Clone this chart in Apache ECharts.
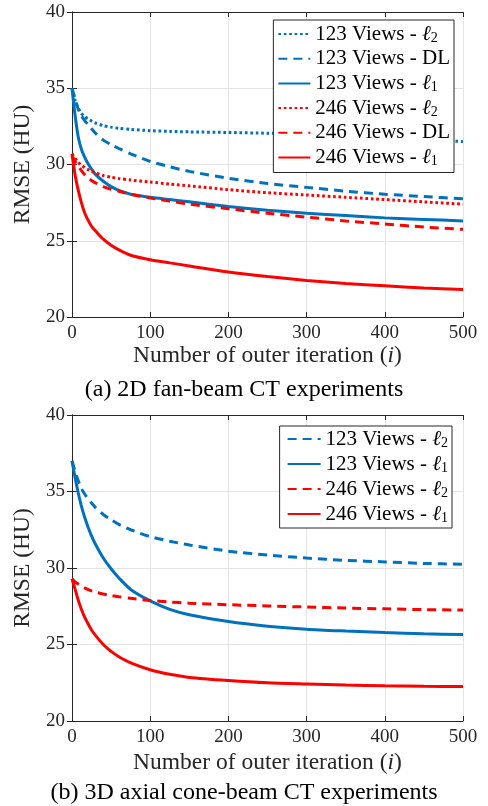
<!DOCTYPE html>
<html>
<head>
<meta charset="utf-8">
<script src="https://cdn.jsdelivr.net/npm/echarts@6/dist/echarts.min.js"></script>
<style>
  html, body { margin: 0; padding: 0; background: #fff; }
  #chart { width: 488px; height: 806px; }
</style>
</head>
<body>
<div id="chart"></div>
<script>
// iterations (x axis)
var iters = [0, 4, 8, 12, 16, 20, 25, 30, 40, 50, 60, 75, 100, 125, 150, 200, 250, 300, 350, 400, 450, 500];

// (a) 2D fan-beam CT
var fan123L2 = [35, 34.2, 33.7, 33.35, 33.15, 33.0, 32.85, 32.72, 32.55, 32.45, 32.37, 32.3, 32.22, 32.17, 32.14, 32.1, 32.05, 32.0, 31.9, 31.8, 31.65, 31.5];
var fan123DL = [35, 34.3, 33.6, 33.2, 32.9, 32.65, 32.35, 32.05, 31.6, 31.3, 31.05, 30.7, 30.2, 29.85, 29.55, 29.1, 28.75, 28.5, 28.25, 28.05, 27.9, 27.75];
var fan123L1 = [35, 33.2, 31.8, 31.0, 30.5, 30.1, 29.7, 29.35, 28.9, 28.55, 28.3, 28.05, 27.85, 27.7, 27.55, 27.25, 27.0, 26.8, 26.65, 26.5, 26.4, 26.3];
var fan246L2 = [30.7, 30.4, 30.15, 29.95, 29.8, 29.68, 29.55, 29.45, 29.28, 29.17, 29.08, 28.98, 28.85, 28.72, 28.6, 28.35, 28.15, 28.0, 27.85, 27.7, 27.55, 27.4];
var fan246DL = [30.6, 30.2, 29.9, 29.6, 29.35, 29.15, 28.95, 28.8, 28.55, 28.38, 28.25, 28.05, 27.8, 27.6, 27.4, 27.1, 26.8, 26.55, 26.3, 26.1, 25.9, 25.75];
var fan246L1 = [30.7, 29.3, 28.3, 27.5, 26.85, 26.4, 25.95, 25.65, 25.1, 24.7, 24.4, 24.05, 23.75, 23.55, 23.35, 22.95, 22.65, 22.4, 22.2, 22.05, 21.9, 21.8];

// (b) 3D axial cone-beam CT
var cone123L2 = [37, 36.3, 35.7, 35.2, 34.85, 34.55, 34.25, 33.95, 33.5, 33.15, 32.85, 32.5, 32.05, 31.75, 31.5, 31.1, 30.85, 30.65, 30.5, 30.4, 30.3, 30.25];
var cone123L1 = [37, 35.9, 34.9, 34.05, 33.35, 32.75, 32.1, 31.55, 30.65, 29.95, 29.35, 28.6, 27.85, 27.3, 26.95, 26.5, 26.2, 26.0, 25.88, 25.78, 25.7, 25.65];
var cone246L2 = [29.3, 29.1, 28.95, 28.82, 28.7, 28.6, 28.5, 28.42, 28.3, 28.2, 28.12, 28.02, 27.88, 27.78, 27.7, 27.6, 27.52, 27.45, 27.38, 27.33, 27.28, 27.25];
var cone246L1 = [29.3, 28.6, 27.9, 27.3, 26.8, 26.4, 25.95, 25.6, 25.0, 24.55, 24.2, 23.8, 23.35, 23.05, 22.85, 22.65, 22.5, 22.42, 22.35, 22.3, 22.27, 22.25];

var fanNames = ['123 Views - ℓ2', '123 Views - DL', '123 Views - ℓ1', '246 Views - ℓ2', '246 Views - DL', '246 Views - ℓ1'];
// trailing space keeps the two legends apart (same labels, other line styles)
var coneNames = ['123 Views - ℓ2 ', '123 Views - ℓ1 ', '246 Views - ℓ2 ', '246 Views - ℓ1 '];

var BLUE = '#0072BD', RED = '#FF0000';
var FONT = '"Liberation Serif", "DejaVu Serif", serif';
var INK = '#262626';
var DOT = [2.7, 2.7], DASH = [9, 6];

function pairs(ys) {
  return iters.map(function(x, i) { return [x, ys[i]]; });
}

function line(name, ys, color, dash, idx) {
  return {
    name: name, type: 'line', data: pairs(ys),
    xAxisIndex: idx, yAxisIndex: idx,
    smooth: 0.25, showSymbol: false, symbol: 'none',
    lineStyle: { color: color, width: 3, type: dash },
    itemStyle: { color: color }
  };
}

function mainX(grid, gap) {
  return {
    type: 'value', gridIndex: grid, min: 0, max: 500, interval: 100,
    name: 'Number of outer iteration ({i|i})', nameLocation: 'middle', nameGap: gap,
    nameTextStyle: { fontFamily: FONT, fontSize: 23.5, color: INK,
      rich: { i: { fontFamily: FONT, fontSize: 23.5, fontStyle: 'italic', color: INK } } },
    axisLine: { lineStyle: { color: INK, width: 1 } },
    axisTick: { inside: true, length: 5, lineStyle: { color: INK } },
    axisLabel: { fontFamily: FONT, fontSize: 19, color: INK, margin: 7 },
    splitLine: { show: true, lineStyle: { color: '#e3e3e3', width: 1 } }
  };
}
function mainY(grid) {
  return {
    type: 'value', gridIndex: grid, min: 20, max: 40, interval: 5,
    name: 'RMSE (HU)', nameLocation: 'middle', nameGap: 28,
    nameTextStyle: { fontFamily: FONT, fontSize: 23.5, color: INK },
    axisLine: { show: true, lineStyle: { color: INK, width: 1 } },
    axisTick: { show: true, inside: true, length: 5, lineStyle: { color: INK } },
    axisLabel: { fontFamily: FONT, fontSize: 19, color: INK, margin: 7 },
    splitLine: { show: true, lineStyle: { color: '#e3e3e3', width: 1 } }
  };
}
// top and right axes only close the box (MATLAB "box on")
function boxX(grid) {
  return {
    type: 'value', gridIndex: grid, position: 'top', min: 0, max: 500, interval: 100,
    axisLine: { lineStyle: { color: INK, width: 1 } },
    axisTick: { inside: true, length: 5, lineStyle: { color: INK } },
    axisLabel: { show: false }, splitLine: { show: false }
  };
}
function boxY(grid) {
  return {
    type: 'value', gridIndex: grid, position: 'right', min: 20, max: 40, interval: 5,
    axisLine: { show: true, lineStyle: { color: INK, width: 1 } },
    axisTick: { show: true, inside: true, length: 5, lineStyle: { color: INK } },
    axisLabel: { show: false }, splitLine: { show: false }
  };
}

function legendText(name) {
  var s = name.trim();
  var m = s.match(/^(.*)ℓ(\d)$/);
  if (m) return m[1] + '{i|ℓ}{s|' + m[2] + '}';
  return s;
}
var legendRich = {
  i: { fontFamily: FONT, fontSize: 21, fontStyle: 'italic', color: '#000', lineHeight: 24 },
  s: { fontFamily: FONT, fontSize: 14, color: '#000', lineHeight: 24, padding: [8, 0, 0, 0] }
};
function legend(names, right, top, pad, gap, iw) {
  return {
    data: names, orient: 'vertical', right: right, top: top,
    backgroundColor: '#fff', borderColor: INK, borderWidth: 1,
    padding: pad, itemGap: gap, itemWidth: iw, itemHeight: 14,
    selectedMode: false,
    itemStyle: { opacity: 0 },
    formatter: legendText,
    textStyle: { fontFamily: FONT, fontSize: 21, color: '#000', lineHeight: 24, rich: legendRich }
  };
}

var chart = echarts.init(document.getElementById('chart'), null, { renderer: 'canvas' });
chart.setOption({
  backgroundColor: '#fff',
  animation: false,
  grid: [
    { left: 72, top: 12, width: 391, height: 305 },
    { left: 72, top: 415, width: 391, height: 306 }
  ],
  xAxis: [mainX(0, 26), mainX(1, 30), boxX(0), boxX(1)],
  yAxis: [mainY(0), mainY(1), boxY(0), boxY(1)],
  legend: [
    legend(fanNames, 34, 20, [2, 4, 3, 4], 0.7, 32),
    legend(coneNames, 36, 426, [1, 4, 2, 7], 1, 33)
  ],
  graphic: [
    { type: 'text', left: 'center', top: 378, style: { text: '(a) 2D fan-beam CT experiments', font: '24px ' + FONT, fill: '#000' } },
    { type: 'text', left: 'center', top: 781, style: { text: '(b) 3D axial cone-beam CT experiments', font: '24px ' + FONT, fill: '#000' } }
  ],
  series: [
    line(fanNames[0], fan123L2, BLUE, DOT, 0),
    line(fanNames[1], fan123DL, BLUE, DASH, 0),
    line(fanNames[2], fan123L1, BLUE, 'solid', 0),
    line(fanNames[3], fan246L2, RED, DOT, 0),
    line(fanNames[4], fan246DL, RED, DASH, 0),
    line(fanNames[5], fan246L1, RED, 'solid', 0),
    line(coneNames[0], cone123L2, BLUE, DASH, 1),
    line(coneNames[1], cone123L1, BLUE, 'solid', 1),
    line(coneNames[2], cone246L2, RED, DASH, 1),
    line(coneNames[3], cone246L1, RED, 'solid', 1)
  ]
});
</script>
</body>
</html>
